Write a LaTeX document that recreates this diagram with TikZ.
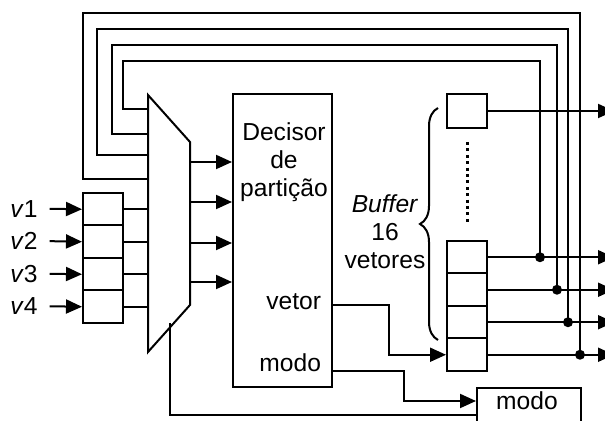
\documentclass[tikz,border=0pt]{standalone}
\usepackage{fontspec}
\setmainfont{Liberation Sans}
\usetikzlibrary{arrows.meta,decorations.pathreplacing}

\tikzset{
  cell/.style={draw, minimum width=20pt, minimum height=16.25pt, inner sep=0pt},
  dot/.style={circle, fill, inner sep=0pt, minimum size=5pt},
  lbl/.style={inner sep=2pt},
}

\begin{document}
\begin{tikzpicture}[x=0.5pt, y=-0.5pt, font=\fontsize{12.3}{14}\selectfont, line width=1pt, >={Triangle[length=8pt,width=7pt]}]
	\useasboundingbox (0,0) rectangle (605,421);
	\clip (0,0) rectangle (605,421);
	% buffer de entrada v1..v4
	\foreach \y [count=\i] in {209.25,241.75,274.25,306.75} {
		\node[cell] (in\i) at (103,\y) {};
		\node[lbl, anchor=base] (v\i) at (24,\y+8) {\textit{v}\i};
		\draw[->] ([xshift=3.5pt]v\i.east) -- (in\i.west);
	}
	% multiplexador
	\coordinate (mux-tl) at (148,95);
	\coordinate (mux-tr) at (190,142);
	\coordinate (mux-br) at (190,305);
	\coordinate (mux-bl) at (148,352);
	\draw (mux-tl) -- (mux-tr) -- (mux-br) -- (mux-bl) -- cycle;
	\foreach \i in {1,...,4} \draw (in\i.east) -- (in\i.east -| mux-tl);
	% decisor
	\node[draw, minimum width=49.5pt, minimum height=146.5pt, inner sep=0pt] (dec) at (282.5,240.5) {};
	\node[align=center] (dectxt) at (284,162) {Decisor\\de\\partição};
	\node[anchor=base east, inner sep=0pt] (vetor) at (322,310) {vetor};
	\node[anchor=base east, inner sep=0pt] (modo) at (322,372) {modo};
	\foreach \y [count=\i] in {162,202,243,282} {
		\coordinate (mo\i) at (190,\y);
		\draw[->] (mo\i) -- (mo\i -| dec.west);
	}
	% buffer de 16 vetores
	\node[cell, minimum height=17pt] (outtop) at (467,111) {};
	\foreach \y [count=\i] in {257.25,289.75,322.25,354.75} \node[cell] (out\i) at (467,\y) {};
	\coordinate (dots-a) at (467,142);
	\coordinate (dots-b) at (467,223);
	\draw[line width=1.5pt, dash pattern=on 1.5pt off 1.7pt] (dots-a) -- (dots-b);
	\coordinate (br-a) at (438,340);
	\coordinate (br-b) at (438,108);
	\draw[decorate, decoration={brace, amplitude=9pt}] (br-a) -- (br-b);
	\node[align=center] (buftxt) at (385,232) {\textit{Buffer}\\16\\vetores};
	% saida modo
	\node[draw, minimum width=52pt, minimum height=27pt, inner sep=0pt] (modobox) at (529,415) {};
	\node[anchor=base] (modotxt) at (527,410) {modo};
	\draw[->] (dec.east |- 0,305) -- (389,305) |- (out4.west);
	\draw[->] (dec.east |- 0,371) -- (404,371) |- (modobox.west |- 0,401);
	\coordinate (fb) at (170,323);
	\draw (fb) |- (modobox.west);
	% saidas e realimentacao
	\coordinate (tip0) at (outtop.east -| 614,0);
	\draw[->] (outtop.east) -- (tip0);
	\foreach \i/\xr/\yt/\xl/\ym in {1/540/61/123/109, 2/557/45/112/134, 3/568/29/97/155, 4/580/13/83/179} {
		\coordinate (tip\i) at (out\i.east -| 614,0);
		\draw[->] (out\i.east) -- (tip\i);
		\node[dot] (d\i) at (out\i.east -| \xr,0) {};
		\draw (d\i.center) |- (\xl,\yt) |- (mux-tl |- 0,\ym);
	}
\end{tikzpicture}
\end{document}
